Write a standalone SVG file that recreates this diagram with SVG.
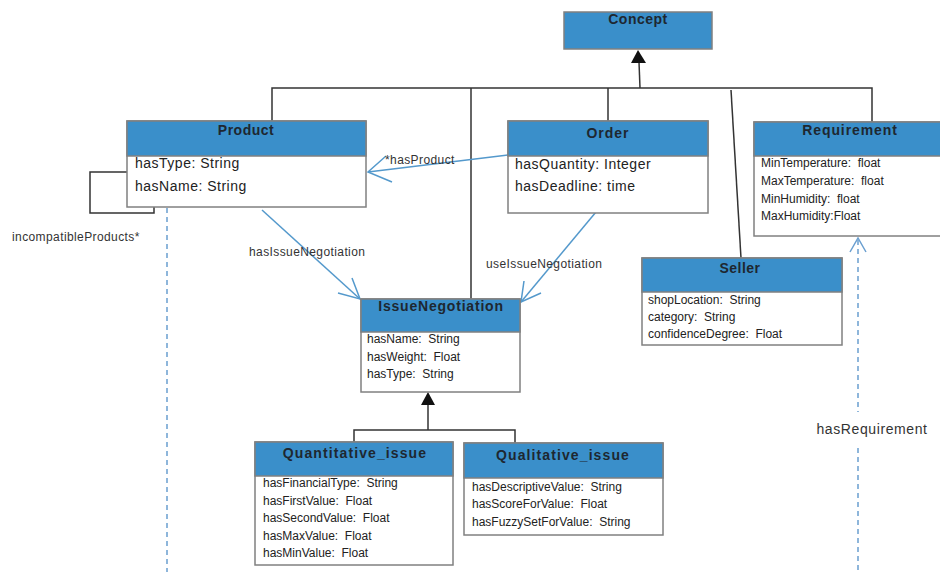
<svg xmlns="http://www.w3.org/2000/svg" width="940" height="572" viewBox="0 0 940 572">
<defs>
<style>
.box{fill:#ffffff;stroke:#808080;stroke-width:1.5}
.hdr{fill:#3a8fca;stroke:#808080;stroke-width:1.5}
.title{font-family:"Liberation Sans",Arial,sans-serif;font-weight:bold;font-size:14px;fill:#1e2730;text-anchor:middle;letter-spacing:0.5px}
.attr{font-family:"Liberation Sans",Arial,sans-serif;font-size:14px;fill:#222;letter-spacing:0.5px}
.sattr{font-family:"Liberation Sans",Arial,sans-serif;font-size:12px;fill:#222;white-space:pre}
.lbl{font-family:"Liberation Sans",Arial,sans-serif;font-size:12px;fill:#333;letter-spacing:0.4px}
.gen{fill:none;stroke:#333;stroke-width:1.5}
.assoc{fill:none;stroke:#5499cc;stroke-width:1.5}
.dash{fill:none;stroke:#6a9fd0;stroke-width:1.5;stroke-dasharray:5,4}
</style>
</defs>
<rect width="940" height="572" fill="#ffffff"/>

<g id="connectors">
  <polyline class="gen" points="272,122 272,88 872,88 872,122"/>
  <line class="gen" x1="471" y1="88" x2="471" y2="300"/>
  <line class="gen" x1="608" y1="88" x2="608" y2="122"/>
  <line class="gen" x1="731" y1="90" x2="741" y2="258"/>
  <line class="gen" x1="640" y1="88" x2="639" y2="62"/>
  <polygon points="638,50 631,63 646,63" fill="#111"/>
  <polyline class="gen" points="354,442 354,430 515,430 515,443"/>
  <line class="gen" x1="428" y1="430" x2="428" y2="405"/>
  <polygon points="428,392 421,405 435,405" fill="#111"/>
  <polyline class="gen" points="127,172 90,172 90,213 154,213 154,207"/>
  <text class="lbl" x="12" y="241">incompatibleProducts*</text>
  <line class="assoc" x1="508" y1="155" x2="368" y2="172"/>
  <polyline class="assoc" points="386,156 368,172 392,182"/>
  <text class="lbl" x="385" y="164">*hasProduct</text>
  <line class="assoc" x1="262" y1="210" x2="360" y2="299"/>
  <polyline class="assoc" points="352,278 360,299 338,293"/>
  <text class="lbl" x="249" y="256">hasIssueNegotiation</text>
  <line class="assoc" x1="596" y1="212" x2="521" y2="302"/>
  <polyline class="assoc" points="524,281 521,302 541,293"/>
  <text class="lbl" x="486" y="268">useIssueNegotiation</text>
  <line class="dash" x1="167" y1="208" x2="167" y2="572"/>
  <line class="dash" x1="858" y1="240" x2="858" y2="412"/>
  <line class="dash" x1="858" y1="448" x2="858" y2="572"/>
  <polyline class="assoc" points="850,252 858,238 866,252" style="stroke:#6a9fd0"/>
  <text x="872" y="434" style="font-family:'Liberation Sans',Arial,sans-serif;font-size:14px;letter-spacing:0.6px;fill:#333;text-anchor:middle">hasRequirement</text>
</g>

<g id="Concept">
  <rect class="hdr" x="564" y="12" width="148" height="37"/>
  <text class="title" x="638" y="24">Concept</text>
</g>

<g id="Product">
  <rect class="box" x="127" y="121" width="239" height="86"/>
  <rect class="hdr" x="127" y="121" width="239" height="35"/>
  <text class="title" x="246" y="135">Product</text>
  <text class="attr" x="135" y="168">hasType: String</text>
  <text class="attr" x="135" y="191">hasName: String</text>
</g>

<g id="Order">
  <rect class="box" x="508" y="121" width="200" height="92"/>
  <rect class="hdr" x="508" y="121" width="200" height="35"/>
  <text class="title" x="608" y="138" style="letter-spacing:1px">Order</text>
  <text class="attr" x="515" y="169">hasQuantity: Integer</text>
  <text class="attr" x="515" y="191">hasDeadline: time</text>
</g>

<g id="Requirement">
  <rect class="box" x="754" y="122" width="190" height="114"/>
  <rect class="hdr" x="754" y="122" width="190" height="34"/>
  <text class="title" x="850" y="135" style="letter-spacing:0.9px">Requirement</text>
  <text class="sattr" x="761" y="167">MinTemperature:  float</text>
  <text class="sattr" x="761" y="185">MaxTemperature:  float</text>
  <text class="sattr" x="761" y="203">MinHumidity:  float</text>
  <text class="sattr" x="761" y="220">MaxHumidity:Float</text>
</g>

<g id="Seller">
  <rect class="box" x="642" y="258" width="200" height="87"/>
  <rect class="hdr" x="642" y="258" width="200" height="34"/>
  <text class="title" x="740" y="273">Seller</text>
  <text class="sattr" x="648" y="304">shopLocation:  String</text>
  <text class="sattr" x="648" y="321">category:  String</text>
  <text class="sattr" x="648" y="338">confidenceDegree:  Float</text>
</g>

<g id="IssueNegotiation">
  <rect class="box" x="361" y="299" width="159" height="93"/>
  <rect class="hdr" x="361" y="299" width="159" height="33"/>
  <text class="title" x="441" y="311" style="letter-spacing:0.8px">IssueNegotiation</text>
  <text class="sattr" x="367" y="343">hasName:  String</text>
  <text class="sattr" x="367" y="361">hasWeight:  Float</text>
  <text class="sattr" x="367" y="378">hasType:  String</text>
</g>

<g id="Quantitative_issue">
  <rect class="box" x="255" y="442" width="198" height="123"/>
  <rect class="hdr" x="255" y="442" width="198" height="34"/>
  <text class="title" x="355" y="458" style="letter-spacing:1.1px">Quantitative_issue</text>
  <text class="sattr" x="263" y="487">hasFinancialType:  String</text>
  <text class="sattr" x="263" y="505">hasFirstValue:  Float</text>
  <text class="sattr" x="263" y="522">hasSecondValue:  Float</text>
  <text class="sattr" x="263" y="540">hasMaxValue:  Float</text>
  <text class="sattr" x="263" y="557">hasMinValue:  Float</text>
</g>

<g id="Qualitative_issue">
  <rect class="box" x="464" y="443" width="199" height="92"/>
  <rect class="hdr" x="464" y="443" width="199" height="35"/>
  <text class="title" x="563" y="460" style="letter-spacing:1.1px">Qualitative_issue</text>
  <text class="sattr" x="472" y="491">hasDescriptiveValue:  String</text>
  <text class="sattr" x="472" y="508">hasScoreForValue:  Float</text>
  <text class="sattr" x="472" y="526">hasFuzzySetForValue:  String</text>
</g>
</svg>
